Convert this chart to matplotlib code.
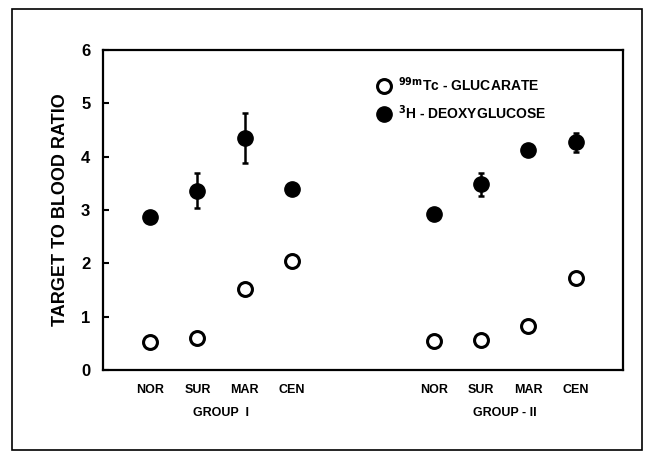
#importando librerias
import matplotlib.pyplot as plt
from matplotlib.patches import Rectangle

plt.rcParams['font.family'] = ['Liberation Sans', 'DejaVu Sans']
plt.rcParams['font.weight'] = 'bold'
plt.rcParams['mathtext.default'] = 'bf'

# datos
categories = ['NOR', 'SUR', 'MAR', 'CEN', 'NOR', 'SUR', 'MAR', 'CEN']
xpos = [1, 2, 3, 4, 7, 8, 9, 10]
groups = ['GROUP  I', 'GROUP - II']
group_x = [2.5, 8.5]

glucarate = [0.52, 0.60, 1.52, 2.05, 0.55, 0.56, 0.83, 1.73]
deoxyglucose = [2.87, 3.36, 4.35, 3.40, 2.92, 3.48, 4.12, 4.27]
deoxy_err = [0.0, 0.33, 0.47, 0.0, 0.0, 0.21, 0.0, 0.18]

fig = plt.figure(figsize=(6.47, 4.55), dpi=100)
ax = fig.add_axes([0.159, 0.187, 0.804, 0.703])

# marco exterior
fig.patches.append(Rectangle((12/647, 5/455), 630/647, 441/455, transform=fig.transFigure,
                             fill=False, lw=1.2, ec='black'))

ax.errorbar(xpos, deoxyglucose, yerr=deoxy_err, fmt='none', ecolor='black',
            elinewidth=1.8, capsize=2.5, capthick=1.8)
ax.plot(xpos, glucarate, 'o', ms=10, mfc='white', mec='black', mew=2.2,
        label=r'$^{99m}$Tc - GLUCARATE')
ax.plot(xpos, deoxyglucose, 'o', ms=11, mfc='black', mec='black',
        label=r'$^{3}$H - DEOXYGLUCOSE')

ax.set_xlim(0, 11)
ax.set_ylim(0, 6)
ax.set_yticks([0, 1, 2, 3, 4, 5, 6])
ax.set_xticks(xpos)
ax.set_xticklabels(categories, fontsize=9, fontweight='bold')
ax.tick_params(axis='x', length=0, pad=10)
ax.tick_params(axis='y', direction='in', length=4, width=1.5, pad=9, labelsize=12)
for s in ax.spines.values():
    s.set_linewidth(1.6)

for gx, g in zip(group_x, groups):
    ax.text(gx, -0.135, g, transform=ax.get_xaxis_transform(), ha='center', va='center',
            fontsize=9, fontweight='bold')

ax.set_ylabel('TARGET TO BLOOD RATIO', fontsize=13, fontweight='bold', labelpad=9)

ax.legend(loc='upper left', bbox_to_anchor=(0.5, 0.96), frameon=False, fontsize=10,
          handletextpad=0.4, labelspacing=0.7, handlelength=1.2)

plt.savefig('out.png', dpi=100)
